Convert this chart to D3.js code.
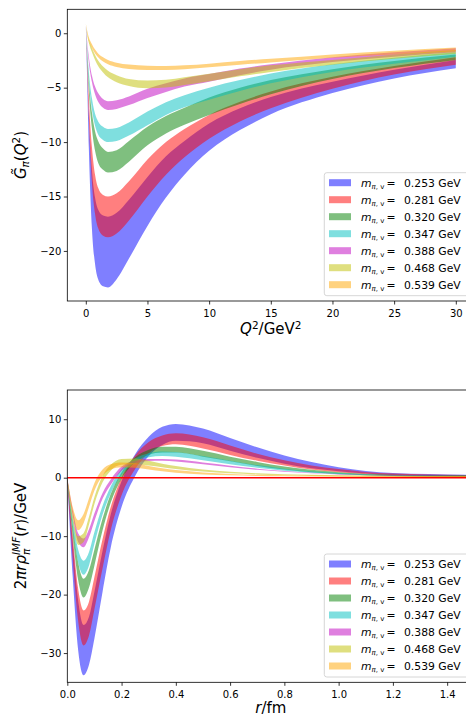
<!DOCTYPE html>
<html>
<head>
<meta charset="utf-8">
<script src="https://cdn.jsdelivr.net/npm/d3@7"></script>
<style>
body { margin: 0; background: #fff; }
svg text { font-family: "DejaVu Sans", sans-serif; fill: #000; }
</style>
</head>
<body>
<div id="container"></div>
<script>

// values
var masses = ['0.253', '0.281', '0.320', '0.347', '0.388', '0.468', '0.539'];
var colors = ['#0000ff', '#ff0000', '#008000', '#00bfbf', '#bf00bf', '#bfbf00', '#ffa500'];

// top panel: G(Q^2) bands
var q2 = [0, 0.1, 0.25, 0.5, 0.75, 1, 1.4, 1.8, 2.5, 3.5, 5, 6.5, 8, 10, 12.5, 15, 20, 25, 30];

var gLower = [
    [0.9, -3.8, -10.7, -18.0, -21.2, -22.6, -23.25, -23.35, -22.6, -20.7, -17.7, -15.1, -13.0, -10.8, -8.9, -7.45, -5.5, -4.15, -3.22],
    [0.9, -2.8, -8.0, -13.8, -16.6, -17.9, -18.6, -18.75, -18.4, -17.2, -15.0, -13.0, -11.4, -9.7, -8.1, -6.9, -5.1, -3.8, -2.9],
    [0.9, -2.0, -5.4, -8.8, -10.8, -11.9, -12.55, -12.8, -12.65, -11.8, -10.3, -9.2, -8.4, -7.5, -6.5, -5.6, -4.2, -3.2, -2.45],
    [0.9, -1.6, -4.3, -7.0, -8.5, -9.3, -9.8, -10.0, -9.9, -9.4, -8.45, -7.5, -6.8, -6.1, -5.3, -4.6, -3.55, -2.8, -2.15],
    [0.9, -0.9, -2.7, -4.5, -5.6, -6.3, -6.85, -7.05, -6.95, -6.6, -5.95, -5.4, -4.9, -4.45, -3.85, -3.35, -2.65, -2.15, -1.75],
    [0.9, -0.1, -0.9, -1.75, -2.45, -3.0, -3.6, -4.05, -4.5, -4.85, -5.05, -4.98, -4.75, -4.4, -3.95, -3.55, -2.9, -2.35, -1.9],
    [0.9, 0.1, -0.7, -1.35, -1.85, -2.2, -2.6, -2.85, -3.1, -3.28, -3.37, -3.38, -3.3, -3.12, -2.9, -2.68, -2.25, -1.95, -1.65]
];
var gUpper = [
    [0.9, -2.5, -7.5, -12.6, -15.1, -16.2, -16.75, -16.85, -16.5, -15.3, -13.2, -11.3, -9.9, -8.3, -6.9, -5.85, -4.45, -3.35, -2.45],
    [0.9, -2.0, -6.0, -10.5, -13.0, -14.2, -14.85, -15.0, -14.7, -13.6, -11.6, -10.0, -8.8, -7.5, -6.3, -5.35, -4.0, -3.0, -2.2],
    [0.9, -1.5, -4.4, -7.3, -9.0, -9.9, -10.6, -10.9, -10.75, -9.9, -8.6, -7.6, -6.85, -5.9, -5.0, -4.3, -3.3, -2.55, -1.95],
    [0.9, -1.2, -3.6, -6.0, -7.4, -8.1, -8.6, -8.8, -8.7, -8.2, -7.2, -6.35, -5.7, -5.0, -4.3, -3.7, -2.85, -2.25, -1.75],
    [0.9, -0.6, -2.2, -3.9, -4.9, -5.5, -6.05, -6.25, -6.15, -5.8, -5.1, -4.6, -4.15, -3.75, -3.25, -2.85, -2.2, -1.75, -1.38],
    [0.9, 0.1, -0.6, -1.35, -2.0, -2.5, -3.05, -3.45, -3.85, -4.2, -4.35, -4.28, -4.05, -3.72, -3.3, -2.95, -2.45, -1.95, -1.55],
    [0.9, 0.3, -0.4, -1.0, -1.5, -1.85, -2.2, -2.45, -2.7, -2.88, -2.98, -3.0, -2.95, -2.8, -2.55, -2.35, -1.95, -1.6, -1.32]
];

// bottom panel: 2 pi r rho(r) bands
var rGrid = [0, 0.02, 0.04, 0.06, 0.08, 0.10, 0.13, 0.16, 0.20, 0.25, 0.30, 0.35, 0.40, 0.50, 0.60, 0.70, 0.80, 0.90, 1.00, 1.20, 1.50];

var rhoLower = [
    [-0.5, -17, -29.5, -33.8, -32, -27.5, -19.5, -12, -5, 0.3, 3.7, 5.6, 6.3, 5.9, 4.6, 3.4, 2.4, 1.6, 1.1, 0.45, 0.2],
    [-0.5, -14, -24.5, -28.7, -27, -22.5, -15.5, -9, -3.0, 1.5, 4.2, 5.4, 5.7, 5.0, 3.9, 2.9, 2.1, 1.4, 0.95, 0.4, 0.2],
    [-0.5, -10, -17.5, -20.5, -18.8, -15, -9, -4.3, -0.2, 2.6, 3.9, 4.3, 4.3, 3.6, 2.8, 2.0, 1.4, 0.95, 0.65, 0.3, 0.15],
    [-0.5, -8.5, -14.5, -16.6, -15, -11.3, -6.3, -2.7, 0.5, 2.6, 3.5, 3.7, 3.6, 3.0, 2.3, 1.7, 1.2, 0.85, 0.6, 0.3, 0.15],
    [-0.5, -6.5, -11, -11.9, -10.2, -7.4, -3.6, -1.2, 1.2, 2.5, 2.85, 2.9, 2.75, 2.3, 1.8, 1.35, 1.0, 0.75, 0.55, 0.3, 0.15],
    [-0.5, -7.5, -11.5, -11.0, -8.0, -4.5, -0.8, 1.2, 2.2, 2.3, 2.1, 1.8, 1.5, 1.05, 0.75, 0.55, 0.4, 0.3, 0.25, 0.15, 0.1],
    [-0.5, -6.5, -9.0, -7.8, -5.0, -2.2, 0.3, 1.4, 1.8, 1.7, 1.4, 1.1, 0.85, 0.55, 0.4, 0.3, 0.25, 0.2, 0.18, 0.12, 0.1]
];
var rhoUpper = [
    [0, -11, -21, -25.2, -23.8, -19.5, -12.5, -6.3, -0.6, 4.0, 7.0, 8.7, 9.2, 8.4, 6.8, 5.2, 3.8, 2.7, 1.8, 0.8, 0.5],
    [0, -10, -19, -22.7, -21.2, -17, -10.5, -5, 0.0, 3.8, 6.1, 7.2, 7.6, 6.9, 5.5, 4.1, 3.0, 2.1, 1.5, 0.7, 0.45],
    [0, -8, -14.5, -17.3, -15.8, -12.3, -7, -2.8, 0.9, 3.5, 4.8, 5.3, 5.3, 4.6, 3.6, 2.7, 1.9, 1.35, 0.95, 0.5, 0.35],
    [0, -7, -12.3, -14.2, -12.7, -9.3, -4.8, -1.5, 1.5, 3.3, 4.2, 4.5, 4.4, 3.7, 2.9, 2.15, 1.55, 1.1, 0.8, 0.45, 0.35],
    [0, -5.5, -9.5, -10.4, -8.8, -6.1, -2.6, -0.3, 1.9, 2.95, 3.2, 3.2, 3.1, 2.6, 2.05, 1.55, 1.15, 0.85, 0.65, 0.4, 0.3],
    [0, -6.5, -10.0, -9.5, -6.7, -3.3, 0.3, 2.2, 3.2, 3.3, 2.9, 2.4, 2.0, 1.4, 1.0, 0.75, 0.6, 0.5, 0.42, 0.35, 0.3],
    [0, -5.0, -7.3, -6.2, -3.5, -0.9, 1.4, 2.3, 2.6, 2.45, 2.0, 1.6, 1.3, 0.9, 0.65, 0.5, 0.42, 0.38, 0.35, 0.3, 0.28]
];

// ticks
var q2Ticks = [0, 5, 10, 15, 20, 25, 30];
var gTicks = [0, -5, -10, -15, -20];
var rTicks = [0, 0.2, 0.4, 0.6, 0.8, 1.0, 1.2, 1.4];
var rhoTicks = [10, 0, -10, -20, -30];

// layout
var width = 466,
    height = 717,
    left = 67.3,
    right = 474.3;

var svg = d3.select('#container')
    .append('svg')
    .attr('width', width)
    .attr('height', height);

// top panel
var top1 = panel({
    id: 'a', top: 9.3, bottom: 301,
    xDomain: [-1.5, 31.5], yDomain: [-24.6, 2.2],
    xs: q2, lower: gLower, upper: gUpper,
    xTicks: q2Ticks, yTicks: gTicks,
    xFormat: d3.format('d'), yFormat: d3.format('d'),
    legendTop: 172.7
});

// bottom panel
var top2 = panel({
    id: 'b', top: 390, bottom: 682.3,
    xDomain: [0, 1.5], yDomain: [-35, 15],
    xs: rGrid, lower: rhoLower, upper: rhoUpper,
    xTicks: rTicks, yTicks: rhoTicks,
    xFormat: d3.format('.1f'), yFormat: d3.format('d'),
    legendTop: 554,
    zeroLine: true
});

// axis labels
var lab = svg.append('text').attr('x', 270.8).attr('y', 334).attr('font-size', 15).attr('text-anchor', 'middle');
lab.append('tspan').attr('font-style', 'italic').text('Q');
lab.append('tspan').attr('font-size', 10.5).attr('dy', -5).text('2');
lab.append('tspan').attr('dy', 5).text('/GeV');
lab.append('tspan').attr('font-size', 10.5).attr('dy', -5).text('2');

lab = svg.append('text').attr('x', 270.8).attr('y', 713).attr('font-size', 15).attr('text-anchor', 'middle');
lab.append('tspan').attr('font-style', 'italic').text('r');
lab.append('tspan').text('/fm');

lab = svg.append('text').attr('transform', 'translate(26,155) rotate(-90)').attr('font-size', 15).attr('text-anchor', 'middle');
lab.append('tspan').attr('font-style', 'italic').text('G\u0303');
lab.append('tspan').attr('font-style', 'italic').attr('font-size', 10.5).attr('dy', 3).text('\u03c0');
lab.append('tspan').attr('dy', -3).text('(');
lab.append('tspan').attr('font-style', 'italic').text('Q');
lab.append('tspan').attr('font-size', 10.5).attr('dy', -6).text('2');
lab.append('tspan').attr('dy', 6).text(')');

lab = svg.append('text').attr('transform', 'translate(26,536) rotate(-90)').attr('font-size', 15).attr('text-anchor', 'middle');
lab.append('tspan').text('2');
lab.append('tspan').attr('font-style', 'italic').text('\u03c0r\u03c1');
var sup = lab.append('tspan').attr('font-style', 'italic').attr('font-size', 10.5).attr('dy', -6).text('IMF');
var supLen = sup.node().getComputedTextLength();
var sub = lab.append('tspan').attr('font-style', 'italic').attr('font-size', 10.5).attr('dy', 9.5).attr('dx', -supLen).text('\u03c0');
var subLen = sub.node().getComputedTextLength();
lab.append('tspan').attr('dy', -3.5).attr('dx', supLen - subLen).text('(');
lab.append('tspan').attr('font-style', 'italic').text('r');
lab.append('tspan').text(')/GeV');


function panel(p) {
    var x = d3.scaleLinear().domain(p.xDomain).range([left, right]);
    var y = d3.scaleLinear().domain(p.yDomain).range([p.bottom, p.top]);

    var g = svg.append('g');

    g.append('clipPath')
        .attr('id', 'clip' + p.id)
        .append('rect')
        .attr('x', left).attr('y', p.top)
        .attr('width', right - left).attr('height', p.bottom - p.top);

    var area = d3.area()
        .curve(d3.curveMonotoneX)
        .x(function (d) { return x(d.x) })
        .y0(function (d) { return y(d.lo) })
        .y1(function (d) { return y(d.hi) });

    var bands = masses.map(function (m, i) {
        return p.xs.map(function (v, j) {
            return { x: v, lo: p.lower[i][j], hi: p.upper[i][j] }
        })
    });

    g.append('g')
        .attr('clip-path', 'url(#clip' + p.id + ')')
        .selectAll('path')
        .data(bands)
        .enter()
        .append('path')
        .attr('d', area)
        .attr('fill', function (d, i) { return colors[i] })
        .attr('fill-opacity', 0.5);

    if (p.zeroLine) {
        g.append('line')
            .attr('x1', left).attr('x2', right)
            .attr('y1', y(0)).attr('y2', y(0))
            .attr('stroke', 'red')
            .attr('stroke-width', 1.5);
    }

    var xa = g.append('g')
        .attr('transform', 'translate(0,' + p.bottom + ')')
        .call(d3.axisBottom(x).tickValues(p.xTicks).tickFormat(p.xFormat).tickSize(3.5).tickPadding(5));
    var ya = g.append('g')
        .attr('transform', 'translate(' + left + ',0)')
        .call(d3.axisLeft(y).tickValues(p.yTicks).tickFormat(p.yFormat).tickSize(3.5).tickPadding(2.5));

    [xa, ya].forEach(function (a) {
        a.select('.domain').remove();
        a.attr('font-family', 'DejaVu Sans').attr('font-size', 10);
        a.selectAll('line').attr('stroke-width', 0.8);
    });

    g.append('rect')
        .attr('x', left).attr('y', p.top)
        .attr('width', right - left).attr('height', p.bottom - p.top)
        .attr('fill', 'none')
        .attr('stroke', '#000')
        .attr('stroke-width', 0.8);

    // legend
    var lg = g.append('g');
    lg.append('rect')
        .attr('x', 324.3).attr('y', p.legendTop)
        .attr('width', 145).attr('height', 123)
        .attr('rx', 2.5)
        .attr('fill', '#fff').attr('fill-opacity', 0.8)
        .attr('stroke', '#cccccc').attr('stroke-width', 0.8);

    masses.forEach(function (m, i) {
        var cy = p.legendTop + 10 + 17 * i;
        lg.append('rect')
            .attr('x', 329).attr('y', cy - 3.5)
            .attr('width', 22).attr('height', 7)
            .attr('fill', colors[i]).attr('fill-opacity', 0.5);
        var t = lg.append('text').attr('x', 361).attr('y', cy + 3.8).attr('font-size', 10.8);
        t.append('tspan').attr('font-style', 'italic').text('m');
        t.append('tspan').attr('font-style', 'italic').attr('font-size', 7).attr('dy', 2).text('\u03c0');
        t.append('tspan').attr('font-size', 7).text(', v');
        t.append('tspan').attr('x', 386.5).attr('dy', -2).text('=');
        t.append('tspan').attr('x', 404).text(m + ' GeV');
    });

    return g;
}

</script>
</body>
</html>
